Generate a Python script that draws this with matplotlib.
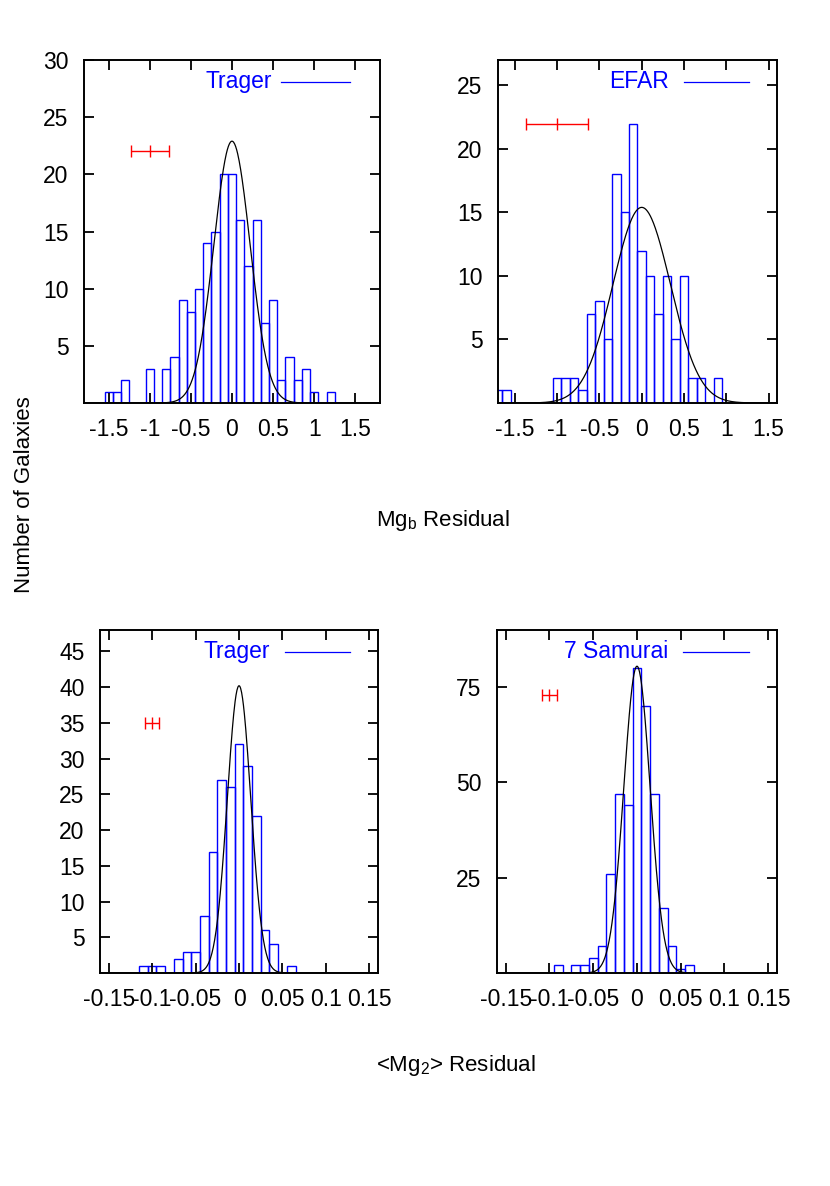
import numpy as np
import matplotlib
matplotlib.use('Agg')
import matplotlib.pyplot as plt

plt.rcParams['font.family'] = ['Liberation Sans', 'DejaVu Sans']
plt.rcParams['font.size'] = 16.5
plt.rcParams['mathtext.fontset'] = 'custom'
plt.rcParams['mathtext.rm'] = 'Liberation Sans'

# Panel 1: Mgb residuals, Trager sample
mgb_trager_x = [-1.5, -1.4, -1.3, -1.2, -1.1, -1.0, -0.9, -0.8, -0.7, -0.6,
                -0.5, -0.4, -0.3, -0.2, -0.1, 0.0, 0.1, 0.2, 0.3, 0.4,
                0.5, 0.6, 0.7, 0.8, 0.9, 1.0, 1.1, 1.2]
mgb_trager_n = [1, 1, 2, 0, 0, 3, 0, 3, 4, 9,
                8, 10, 14, 15, 20, 20, 16, 12, 16, 7,
                9, 2, 4, 2, 3, 1, 0, 1]

# Panel 2: Mgb residuals, EFAR sample
mgb_efar_x = [-1.7, -1.6, -1.5, -1.4, -1.3, -1.2, -1.1, -1.0, -0.9, -0.8,
              -0.7, -0.6, -0.5, -0.4, -0.3, -0.2, -0.1, 0.0, 0.1, 0.2,
              0.3, 0.4, 0.5, 0.6, 0.7, 0.8, 0.9]
mgb_efar_n = [1, 1, 0, 0, 0, 0, 0, 2, 2, 2,
              1, 7, 8, 5, 18, 15, 22, 12, 10, 7,
              10, 5, 10, 2, 2, 0, 2]

# Panel 3: <Mg2> residuals, Trager sample
mg2_trager_x = [-0.11, -0.10, -0.09, -0.08, -0.07, -0.06, -0.05, -0.04, -0.03,
                -0.02, -0.01, 0.00, 0.01, 0.02, 0.03, 0.04, 0.05, 0.06]
mg2_trager_n = [1, 1, 1, 0, 2, 3, 3, 8, 17,
                27, 26, 32, 29, 22, 6, 4, 0, 1]

# Panel 4: <Mg2> residuals, 7 Samurai sample
mg2_samurai_x = [-0.09, -0.08, -0.07, -0.06, -0.05, -0.04, -0.03, -0.02,
                 -0.01, 0.00, 0.01, 0.02, 0.03, 0.04, 0.05, 0.06]
mg2_samurai_n = [2, 0, 2, 2, 4, 7, 26, 47,
                 44, 80, 70, 47, 17, 7, 1, 2]

# Gaussian fits: (amplitude, mean, sigma)
gauss_mgb_trager = (22.9, 0.0, 0.22)
gauss_mgb_efar = (15.4, 0.0, 0.34)
gauss_mg2_trager = (40.2, 0.0, 0.0135)
gauss_mg2_samurai = (80.5, 0.0, 0.015)

# typical error bar: (x, y, half width)
err_mgb_trager = (-1.0, 22, 0.23)
err_mgb_efar = (-1.0, 22, 0.37)
err_mg2_trager = (-0.1, 35, 0.008)
err_mg2_samurai = (-0.1, 73, 0.009)

labels = ['Trager', 'EFAR', 'Trager', '7 Samurai']

mgb_ticks = [-1.5, -1, -0.5, 0, 0.5, 1, 1.5]
mgb_ticklabels = ['-1.5', '-1', '-0.5', '0', '0.5', '1', '1.5']
mg2_ticks = [-0.15, -0.1, -0.05, 0, 0.05, 0.1, 0.15]
mg2_ticklabels = ['-0.15', '-0.1', '-0.05', '0', '0.05', '0.1', '0.15']


def draw_panel(ax, x, n, binw, gauss, err, label, xlim, ylim,
               xticks, xticklabels, yticks, text_x):
    ax.bar(x, n, width=binw, fill=False, edgecolor='#0000ff', linewidth=1.0)

    xs = np.linspace(xlim[0], xlim[1], 600)
    amp, mu, sig = gauss
    ax.plot(xs, amp * np.exp(-0.5 * ((xs - mu) / sig) ** 2), color='black', lw=0.9)

    ex, ey, ew = err
    ax.errorbar([ex], [ey], xerr=[ew], fmt='none', ecolor='red', elinewidth=1.0,
                capsize=4, capthick=1.0)
    ax.plot([ex], [ey], marker='|', color='red', markersize=8, mew=1.0)

    # gnuplot style key: text then a line sample
    ax.text(text_x, 0.936, label, color='#0000ff', ha='right', va='center',
            transform=ax.transAxes, fontsize=16.5)
    ax.plot([0.665, 0.9], [0.936, 0.936], color='#0000ff', lw=0.9,
            transform=ax.transAxes)

    ax.set_xlim(xlim)
    ax.set_ylim(ylim)
    ax.set_xticks(xticks)
    ax.set_xticklabels(xticklabels)
    ax.set_yticks(yticks)
    ax.set_yticklabels([str(t) for t in yticks])
    ax.tick_params(direction='in', length=7.5, width=1.3, top=True, right=True, pad=11)
    for s in ax.spines.values():
        s.set_linewidth(1.4)


fig = plt.figure(figsize=(8.3, 11.86), dpi=100)

ax1 = fig.add_axes([0.1012, 0.6602, 0.3566, 0.2892])
ax2 = fig.add_axes([0.6000, 0.6602, 0.3361, 0.2892])
ax3 = fig.add_axes([0.1205, 0.1796, 0.3350, 0.2892])
ax4 = fig.add_axes([0.5988, 0.1796, 0.3373, 0.2892])

draw_panel(ax1, mgb_trager_x, mgb_trager_n, 0.1, gauss_mgb_trager, err_mgb_trager,
           labels[0], (-1.8, 1.8), (0, 30), mgb_ticks, mgb_ticklabels,
           [5, 10, 15, 20, 25, 30], 0.635)
draw_panel(ax2, mgb_efar_x, mgb_efar_n, 0.1, gauss_mgb_efar, err_mgb_efar,
           labels[1], (-1.7, 1.6), (0, 27), mgb_ticks, mgb_ticklabels,
           [5, 10, 15, 20, 25], 0.613)
draw_panel(ax3, mg2_trager_x, mg2_trager_n, 0.01, gauss_mg2_trager, err_mg2_trager,
           labels[2], (-0.16, 0.16), (0, 48), mg2_ticks, mg2_ticklabels,
           [5, 10, 15, 20, 25, 30, 35, 40, 45], 0.611)
draw_panel(ax4, mg2_samurai_x, mg2_samurai_n, 0.01, gauss_mg2_samurai, err_mg2_samurai,
           labels[3], (-0.16, 0.16), (0, 90), mg2_ticks, mg2_ticklabels,
           [25, 50, 75], 0.611)

fig.text(24 / 830, 1 - 495 / 1186, 'Number of Galaxies', rotation=90,
         ha='center', va='center', fontsize=16)
fig.text(443 / 830, 1 - 520 / 1186, r'Mg$_\mathregular{b}$ Residual',
         ha='center', va='center', fontsize=16)
fig.text(456 / 830, 1 - 1065 / 1186, r'<Mg$_\mathregular{2}$> Residual',
         ha='center', va='center', fontsize=16)

fig.savefig('out.png', dpi=100)
